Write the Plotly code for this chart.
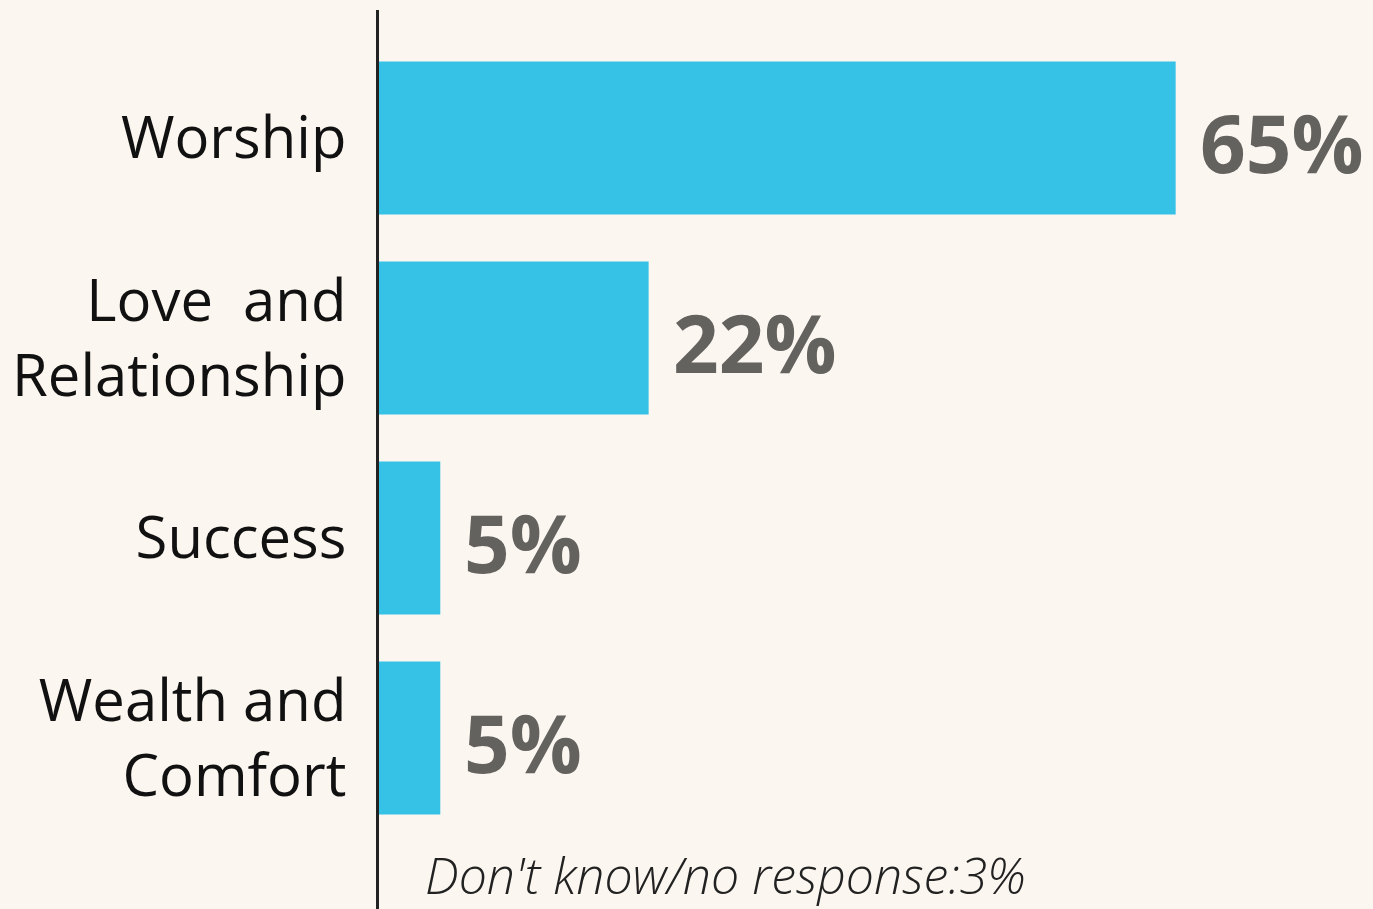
import plotly.graph_objects as go

categories = ["Worship", "Love  and<br>Relationship", "Success", "Wealth and<br>Comfort"]
values = [65, 22, 5, 5]
value_labels = ["65%", "22%", "5%", "5%"]
footnote = "Don't know/no response:3%"

BG = "#FCF6F0"
BAR = "#35C2E6"

fig = go.Figure()
fig.add_trace(go.Bar(
    y=categories, x=values, orientation="h",
    marker=dict(color=BAR, line=dict(width=0)),
    width=0.765, hoverinfo="skip",
))

for c, v, t in zip(categories, values, value_labels):
    fig.add_annotation(
        x=v, y=c, xref="x", yref="y", text=t, showarrow=False,
        xanchor="left", yanchor="middle", xshift=22, yshift=-3,
        font=dict(family="Open Sans", size=80, color="#64625E", weight="bold"),
    )

fig.add_annotation(
    x=0.044, y=0.038, xref="paper", yref="paper", text=footnote, showarrow=False,
    xanchor="left", yanchor="middle",
    font=dict(family="Open Sans", size=50, color="#222222", style="italic", weight=300),
)

fig.update_layout(
    width=1373, height=909,
    paper_bgcolor=BG, plot_bgcolor=BG,
    margin=dict(l=379, r=0, t=10, b=0),
    showlegend=False,
    xaxis=dict(range=[0, 81.1], visible=False, showgrid=False, zeroline=False),
    yaxis=dict(
        type="category", categoryorder="array", categoryarray=categories,
        range=[3.855, -0.64], showgrid=False, zeroline=False,
        showline=True, linecolor="#222222", linewidth=3,
        ticks="outside", ticklen=0, ticklabelstandoff=18,
        tickfont=dict(family="Open Sans", size=58, color="#111111"),
    ),
)

fig.write_html(
    "out.html",
    config={"displayModeBar": False},
    post_script="document.body.style.margin='0';document.body.style.overflow='hidden';",
)
